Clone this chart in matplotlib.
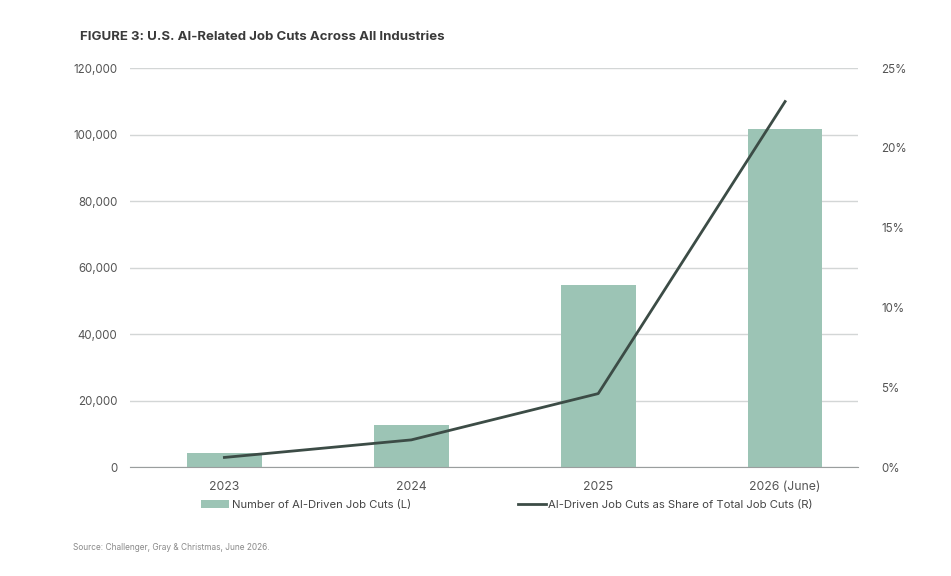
import matplotlib.pyplot as plt
from matplotlib.ticker import FuncFormatter
from matplotlib.lines import Line2D
from matplotlib.patches import Patch

# Datos
anios = ["2023", "2024", "2025", "2026 (June)"]
recortes = [4200, 12600, 54700, 101700]
participacion = [0.6, 1.7, 4.6, 22.9]

colorBarra = "#9cc4b5"
colorLinea = "#3c4c46"
colorTexto = "#555555"

plt.rcParams["font.family"] = ["Inter", "DejaVu Sans"]

fig = plt.figure(figsize=(9.51, 5.76), dpi=100)
ax = fig.add_axes([0.1367, 0.1892, 0.7655, 0.6927])
ax2 = ax.twinx()

x = list(range(len(anios)))
ax.bar(x, recortes, width=0.4, color=colorBarra, zorder=2)
ax2.plot(x, participacion, color=colorLinea, lw=2, zorder=3)

ax.set_xlim(-0.505, 3.39)
ax.set_ylim(0, 120000)
ax2.set_ylim(0, 25)
ax.set_yticks(range(0, 120001, 20000))
ax2.set_yticks(range(0, 26, 5))
ax.yaxis.set_major_formatter(FuncFormatter(lambda v, p: "{:,.0f}".format(v)))
ax2.yaxis.set_major_formatter(FuncFormatter(lambda v, p: "{:.0f}%".format(v)))
ax.set_xticks(x)
ax.set_xticklabels(anios)

ax.grid(axis="y", color="#d3d6d6", lw=1, zorder=0)
ax.set_axisbelow(True)
for a in (ax, ax2):
    for s in a.spines.values():
        s.set_visible(False)
ax.spines["bottom"].set_visible(True)
ax.spines["bottom"].set_color("#9a9e9e")
ax.tick_params(axis="both", length=0, labelsize=8.3, colors=colorTexto)
ax.tick_params(axis="x", labelsize=8.8, pad=10)
ax.tick_params(axis="y", pad=9)
ax2.tick_params(axis="y", length=0, labelsize=8.3, colors=colorTexto, pad=17)

fig.text(0.084, 0.936, "FIGURE 3: U.S. AI-Related Job Cuts Across All Industries",
         fontsize=9.5, fontweight="bold", color="#3a3a3a", va="center")

handles = [Patch(facecolor=colorBarra, edgecolor="none"),
           Line2D([0], [0], color=colorLinea, lw=2)]
etiquetas = ["Number of AI-Driven Job Cuts (L)",
             "AI-Driven Job Cuts as Share of Total Job Cuts (R)"]
fig.legend(handles, etiquetas, loc="center", bbox_to_anchor=(0.533, 0.124),
           ncol=2, frameon=False, fontsize=8.1, columnspacing=9.5,
           handlelength=2.5, handletextpad=0.2, labelcolor="#444444")

fig.text(0.077, 0.05, "Source: Challenger, Gray & Christmas, June 2026.",
         fontsize=6.0, color="#8a8a8a", va="center")

fig.savefig("out.png", dpi=100)
plt.close()
